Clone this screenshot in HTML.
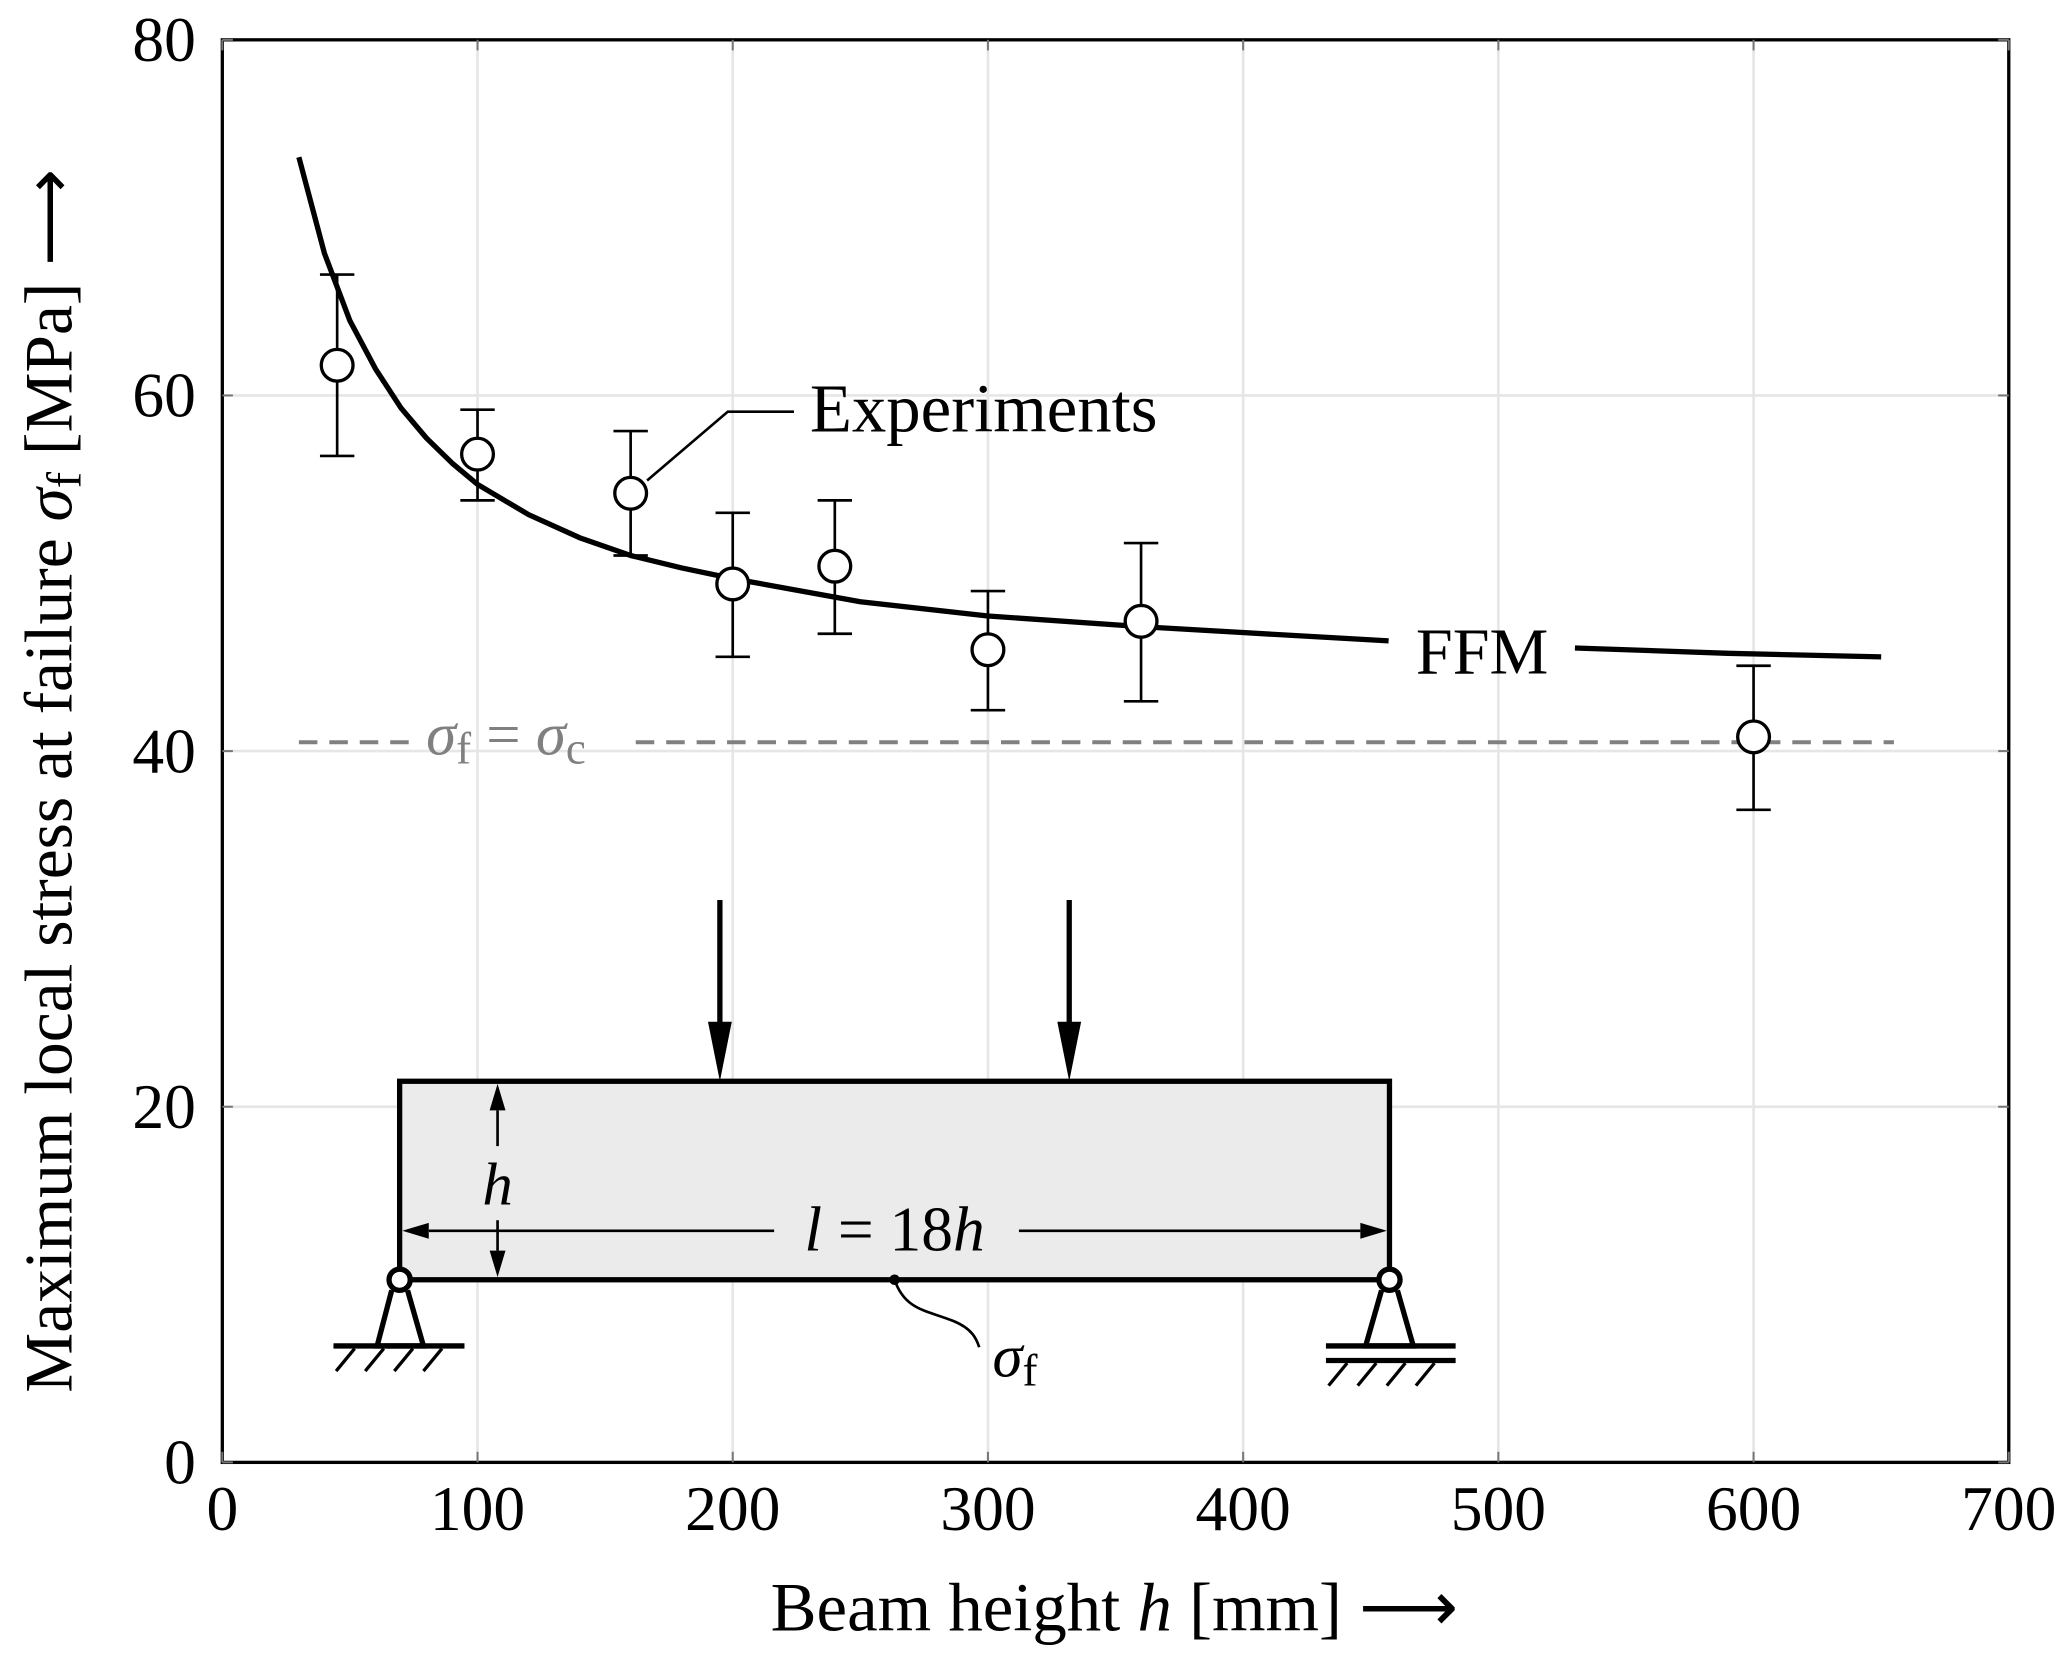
<!DOCTYPE html>
<html><head><meta charset="utf-8"><style>
html,body{margin:0;padding:0;background:#fff}
svg{display:block;font-family:"Liberation Serif",serif}
</style></head><body>
<svg id="chart" width="2067" height="1661" viewBox="0 0 1562 1255" xmlns="http://www.w3.org/2000/svg">
<g id="grid"></g>
<g id="beam">
 <rect x="302" y="817" width="748" height="150" fill="#ebebeb" stroke="#000" stroke-width="4"/>
 <line x1="544" y1="680" x2="544" y2="775" stroke="#000" stroke-width="4"/>
 <polygon points="535,772 553,772 544,817" fill="#000"/>
 <line x1="808" y1="680" x2="808" y2="775" stroke="#000" stroke-width="4"/>
 <polygon points="799,772 817,772 808,817" fill="#000"/>
 <g>
  <polygon points="376,819 370,839 382,839" fill="#000"/>
  <line x1="376" y1="839" x2="376" y2="866" stroke="#000" stroke-width="2"/>
  <text x="376" y="910" font-size="46" font-style="italic" text-anchor="middle">h</text>
  <line x1="376" y1="922" x2="376" y2="945" stroke="#000" stroke-width="2"/>
  <polygon points="376,965 370,945 382,945" fill="#000"/>
 </g>
 <g>
  <polygon points="304,930 324,924 324,936" fill="#000"/>
  <line x1="324" y1="930" x2="585" y2="930" stroke="#000" stroke-width="2"/>
  <text x="676" y="945" font-size="48" text-anchor="middle"><tspan font-style="italic">l</tspan> = 18<tspan font-style="italic">h</tspan></text>
  <line x1="770" y1="930" x2="1028" y2="930" stroke="#000" stroke-width="2"/>
  <polygon points="1048,930 1028,924 1028,936" fill="#000"/>
 </g>
 <g stroke="#000" stroke-width="4" fill="none">
  <polyline points="296,975 285,1017 320,1017 308,975"/>
  <line x1="252" y1="1017" x2="351" y2="1017"/>
  <line x1="268" y1="1019" x2="254" y2="1036" stroke-width="2.5"/>
  <line x1="290" y1="1019" x2="276" y2="1036" stroke-width="2.5"/>
  <line x1="312" y1="1019" x2="298" y2="1036" stroke-width="2.5"/>
  <line x1="334" y1="1019" x2="320" y2="1036" stroke-width="2.5"/>
  <circle cx="302" cy="967" r="8" fill="#fff"/>
 </g>
 <g stroke="#000" stroke-width="4" fill="none">
  <polyline points="1044,975 1032,1017 1068,1017 1056,975"/>
  <line x1="1002" y1="1017" x2="1100" y2="1017"/>
  <line x1="1002" y1="1028" x2="1100" y2="1028"/>
  <line x1="1018" y1="1030" x2="1004" y2="1047" stroke-width="2.5"/>
  <line x1="1040" y1="1030" x2="1026" y2="1047" stroke-width="2.5"/>
  <line x1="1062" y1="1030" x2="1048" y2="1047" stroke-width="2.5"/>
  <line x1="1084" y1="1030" x2="1070" y2="1047" stroke-width="2.5"/>
  <circle cx="1050" cy="967" r="8" fill="#fff"/>
 </g>
 <circle cx="676" cy="967" r="4" fill="#000"/>
 <path d="M676,967 C684,990 700,990 720,998 C735,1004 738,1012 740,1018" fill="none" stroke="#000" stroke-width="2"/>
 <text x="750" y="1040" font-size="46" font-style="italic">σ<tspan font-style="normal" font-size="34" dy="7">f</tspan></text>
</g>
<g id="series"></g>
<rect x="168" y="30" width="1350" height="1075" fill="none" stroke="#000" stroke-width="2.5"/>
<g id="ticks"></g>
<text x="842" y="1232" font-size="52" text-anchor="middle">Beam height <tspan font-style="italic">h</tspan> [mm]  ⟶</text>
<text transform="translate(54,590) rotate(-90)" font-size="51" text-anchor="middle">Maximum local stress at failure <tspan font-style="italic">σ</tspan><tspan font-size="37" dy="7">f</tspan><tspan dy="-7"> [MPa]  ⟶</tspan></text>
<text x="612" y="326" font-size="52">Experiments</text>
<polyline points="489,363 550,311 600,311" fill="none" stroke="#000" stroke-width="2"/>
<text x="1070" y="509" font-size="50">FFM</text>
<text x="322" y="570" font-size="46" fill="#808080" font-style="italic">σ<tspan font-style="normal" font-size="34" dy="7">f</tspan><tspan font-style="normal" dy="-7"> = </tspan>σ<tspan font-style="normal" font-size="34" dy="7">c</tspan></text>
</svg>
<script>
const xTicks=[0,100,200,300,400,500,600,700];
const yTicks=[0,20,40,60,80];
const expH=[45,100,160,200,240,300,360,600];
const expMean=[61.7,56.7,54.5,49.4,50.4,45.7,47.3,40.8];
const expLow=[56.6,54.1,51.0,45.3,46.6,42.3,42.8,36.7];
const expHigh=[66.8,59.2,58.0,53.4,54.1,49.0,51.7,44.8];
const ffmH=[30,40,50,60,70,80,90,100,120,140,160,180,200,250,300,360,420,457];
const ffmS=[73.4,68.0,64.2,61.5,59.3,57.6,56.2,55.0,53.3,52.0,51.0,50.3,49.7,48.4,47.6,47.0,46.5,46.2];
const ffmH2=[530,590,650];
const ffmS2=[45.8,45.5,45.3];
const sigmaC=40.5;
const NS="http://www.w3.org/2000/svg";
const X=v=>168+v*(1350/700), Y=v=>1105-v*(1075/80);
function mk(tag,attrs,parent){const e=document.createElementNS(NS,tag);for(const k in attrs)e.setAttribute(k,attrs[k]);parent.appendChild(e);return e;}
const grid=document.getElementById('grid'),ticks=document.getElementById('ticks'),series=document.getElementById('series');
xTicks.forEach(t=>{
 const g=mk('line',{x1:X(t),x2:X(t),y1:30,y2:1105,stroke:'#e6e6e6','stroke-width':2},grid);
 
 
 mk('line',{x1:X(t),x2:X(t),y1:1105,y2:1097,stroke:'#777','stroke-width':1.5},ticks);
 mk('line',{x1:X(t),x2:X(t),y1:30,y2:38,stroke:'#777','stroke-width':1.5},ticks);
 const l=mk('text',{x:X(t),y:1156,'font-size':48,'text-anchor':'middle'},ticks);l.textContent=t;
 
 
});
yTicks.forEach(t=>{
 const g=mk('line',{x1:168,x2:1518,y1:Y(t),y2:Y(t),stroke:'#e6e6e6','stroke-width':2},grid);
 
 
 mk('line',{x1:168,x2:176,y1:Y(t),y2:Y(t),stroke:'#777','stroke-width':1.5},ticks);
 mk('line',{x1:1510,x2:1518,y1:Y(t),y2:Y(t),stroke:'#777','stroke-width':1.5},ticks);
 const l=mk('text',{x:148,y:Y(t)+16,'font-size':48,'text-anchor':'end'},ticks);l.textContent=t;
 
 
});
const d1=mk('line',{x1:X(30),x2:X(76),y1:Y(sigmaC),y2:Y(sigmaC),stroke:'#808080','stroke-width':3,'stroke-dasharray':'14 9'},series);


const d2=mk('line',{x1:X(162),x2:X(655),y1:Y(sigmaC),y2:Y(sigmaC),stroke:'#808080','stroke-width':3,'stroke-dasharray':'14 9'},series);


[[ffmH,ffmS],[ffmH2,ffmS2]].forEach(([hs,ss])=>{
 const p=mk('polyline',{points:hs.map((h,i)=>X(h)+','+Y(ss[i])).join(' '),fill:'none',stroke:'#000','stroke-width':4,'stroke-linejoin':'round'},series);
 
 
});
expH.forEach((h,i)=>{
 const x=X(h);
 mk('line',{x1:x,x2:x,y1:Y(expLow[i]),y2:Y(expHigh[i]),stroke:'#000','stroke-width':2},series);
 mk('line',{x1:x-13,x2:x+13,y1:Y(expLow[i]),y2:Y(expLow[i]),stroke:'#000','stroke-width':2},series);
 mk('line',{x1:x-13,x2:x+13,y1:Y(expHigh[i]),y2:Y(expHigh[i]),stroke:'#000','stroke-width':2},series);
 const c=mk('circle',{cx:x,cy:Y(expMean[i]),r:12,fill:'#fff',stroke:'#000','stroke-width':2.5},series);
 
 
});
</script>
</body></html>
